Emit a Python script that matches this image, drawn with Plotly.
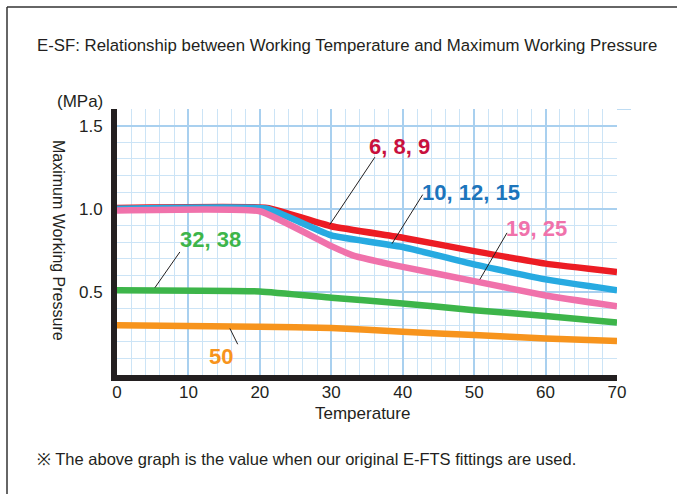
import plotly.graph_objects as go

# ---------------- data ----------------
temp_red = [0, 21, 30, 40, 50, 60, 70]
pres_red = [1.005, 1.005, 0.895, 0.826, 0.745, 0.67, 0.62]

temp_blue = [0, 21, 30, 40, 50, 60, 70]
pres_blue = [1.0, 1.0, 0.84, 0.77, 0.665, 0.575, 0.51]

temp_pink = [0, 20, 30, 33, 40, 50, 60, 70]
pres_pink = [0.99, 0.985, 0.775, 0.72, 0.65, 0.565, 0.478, 0.413]

temp_green = [0, 20, 30, 40, 50, 60, 70]
pres_green = [0.51, 0.503, 0.465, 0.43, 0.39, 0.355, 0.315]

temp_orange = [0, 20, 30, 40, 50, 60, 70]
pres_orange = [0.30, 0.29, 0.283, 0.26, 0.24, 0.22, 0.205]

series_names = ["6, 8, 9", "10, 12, 15", "19, 25", "32, 38", "50"]
x_ticks = [0, 10, 20, 30, 40, 50, 60, 70]
y_ticks = [0.5, 1.0, 1.5]

# ---------------- layout constants ----------------
W, H = 677, 494
L, R, T, B = 117, 60, 109, 119
PW, PH = W - L - R, H - T - B
FONT = "Liberation Sans, Arial, sans-serif"

def px(xp):
    return (xp - L) / PW

def py(yp):
    return (T + PH - yp) / PH

C_RED, C_BLUE, C_PINK, C_GREEN, C_ORANGE = "#ec1c24", "#27aae1", "#f072ab", "#3db54a", "#f7941d"
LBL_RED, LBL_BLUE = "#c8103e", "#1c75bc"
GRID_MAJ, GRID_MIN = "#a9d0ef", "#cce4f6"

fig = go.Figure()
for xs, ys, c, n in [
    (temp_red, pres_red, C_RED, series_names[0]),
    (temp_blue, pres_blue, C_BLUE, series_names[1]),
    (temp_pink, pres_pink, C_PINK, series_names[2]),
    (temp_green, pres_green, C_GREEN, series_names[3]),
    (temp_orange, pres_orange, C_ORANGE, series_names[4]),
]:
    fig.add_trace(go.Scatter(x=xs, y=ys, mode="lines", name=n,
                             line=dict(color=c, width=6.5, shape="spline", smoothing=0.35),
                             showlegend=False, hoverinfo="skip"))

# leader lines (data coords)
leaders = [
    (29.8, 0.905, 36.1, 1.31),
    (38.5, 0.79, 42.8, 1.085),
    (50.8, 0.575, 54.6, 0.855),
    (5.3, 0.525, 8.8, 0.74),
    (15.8, 0.28, 16.9, 0.185),
]
for x0, y0, x1, y1 in leaders:
    fig.add_shape(type="line", x0=x0, y0=y0, x1=x1, y1=y1, xref="x", yref="y",
                  line=dict(color="#231f20", width=1))

# top grid line extending slightly beyond the plot
fig.add_shape(type="line", xref="paper", yref="y", x0=1, x1=px(631), y0=1.6, y1=1.6,
              line=dict(color=GRID_MAJ, width=1.5), layer="below")

# series labels
labels = [
    (series_names[0], 399, 146, LBL_RED),
    (series_names[1], 471, 192, LBL_BLUE),
    (series_names[2], 536, 228, C_PINK),
    (series_names[3], 210, 240, C_GREEN),
    (series_names[4], 221, 356, C_ORANGE),
]
for txt, xp, yp, c in labels:
    fig.add_annotation(text="<b>%s</b>" % txt, x=px(xp), y=py(yp), xref="paper", yref="paper",
                       showarrow=False, xanchor="center", yanchor="middle",
                       font=dict(family=FONT, size=22, color=c))

# outside texts
fig.add_annotation(text="E-SF: Relationship between Working Temperature and Maximum Working Pressure",
                   x=px(35), y=py(46), xref="paper", yref="paper", showarrow=False,
                   xanchor="left", yanchor="middle", font=dict(family=FONT, size=16.8, color="#231f20"))
fig.add_annotation(text="(MPa)", x=px(80), y=py(101), xref="paper", yref="paper", showarrow=False,
                   xanchor="center", yanchor="middle", font=dict(family=FONT, size=17, color="#231f20"))
fig.add_annotation(text="Maximum Working Pressure", x=px(58), y=py(240), xref="paper", yref="paper",
                   showarrow=False, textangle=90, xanchor="center", yanchor="middle",
                   font=dict(family=FONT, size=16, color="#231f20"))
fig.add_annotation(text="Temperature", x=px(362), y=py(413), xref="paper", yref="paper", showarrow=False,
                   xanchor="center", yanchor="middle", font=dict(family=FONT, size=17, color="#231f20"))
fig.add_annotation(text="※ The above graph is the value when our original E-FTS fittings are used.",
                   x=px(35), y=py(459), xref="paper", yref="paper", showarrow=False,
                   xanchor="left", yanchor="middle", font=dict(family=FONT, size=16.5, color="#231f20"))

# frame lines (top and left)
fig.add_shape(type="line", xref="paper", yref="paper", x0=px(7), x1=px(W + 5), y0=py(7), y1=py(7),
              line=dict(color="#333333", width=1.5))
fig.add_shape(type="line", xref="paper", yref="paper", x0=px(7), x1=px(7), y0=py(7), y1=py(H + 5),
              line=dict(color="#333333", width=1.5))

fig.update_layout(
    width=W, height=H,
    margin=dict(l=L, r=R, t=T, b=B),
    paper_bgcolor="white", plot_bgcolor="white",
    xaxis=dict(range=[0, 70], tickvals=x_ticks, showgrid=True, gridcolor=GRID_MAJ, gridwidth=2,
               minor=dict(dtick=2, tick0=0, showgrid=True, gridcolor=GRID_MIN, gridwidth=1),
               showline=True, linecolor="#231f20", linewidth=6, zeroline=False,
               ticks="", ticklabelstandoff=-3,
               tickfont=dict(family=FONT, size=17, color="#231f20")),
    yaxis=dict(range=[0, 1.6], tickvals=y_ticks, tickformat=".1f", showgrid=True, gridcolor=GRID_MAJ, gridwidth=2,
               minor=dict(dtick=0.1, tick0=0, showgrid=True, gridcolor=GRID_MIN, gridwidth=1),
               showline=True, linecolor="#231f20", linewidth=6, zeroline=False,
               ticks="outside", ticklen=5, tickcolor="rgba(0,0,0,0)",
               tickfont=dict(family=FONT, size=17, color="#231f20")),
)

fig.write_html("out.html", config={"displayModeBar": False},
               post_script="document.body.style.margin='0';document.body.style.overflow='hidden';")
